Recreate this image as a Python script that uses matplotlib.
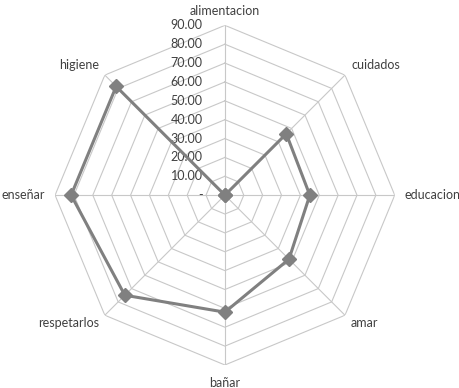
import numpy as np
import matplotlib.pyplot as plt

categorias = ["alimentacion", "cuidados", "educacion", "amar",
              "bañar", "respetarlos", "enseñar", "higiene"]
valores = [0, 46, 45, 48, 62, 75, 81.5, 81.5]
niveles = [0, 10, 20, 30, 40, 50, 60, 70, 80, 90]
etiquetas_nivel = ["-"] + [f"{v:.2f}" for v in niveles[1:]]

plt.rcParams['font.family'] = ['Lato', 'DejaVu Sans']

fig = plt.figure(figsize=(4.59, 3.88), dpi=100)
ax = fig.add_axes([0.120, 0.059, 0.740, 0.876], projection='polar')
ax.set_theta_zero_location('N')
ax.set_theta_direction(-1)
ax.set_ylim(0, 90)
ax.grid(False)
ax.spines['polar'].set_visible(False)
ax.set_xticks([])
ax.set_yticks([])
ax.patch.set_alpha(0)

n = len(categorias)
angulos = np.arange(n) * 2 * np.pi / n
cerrado = np.append(angulos, angulos[0])

# anillos poligonales y radios
for r in niveles[1:]:
    ax.plot(cerrado, [r] * (n + 1), color='#c8c8c8', lw=0.8, zorder=1)
for a in angulos:
    ax.plot([a, a], [0, 90], color='#c8c8c8', lw=0.8, zorder=1)

# etiquetas de valores sobre el eje superior
for r, t in zip(niveles, etiquetas_nivel):
    ax.annotate(t, (0, r), xytext=(-16, 0), textcoords='offset points',
                ha='right', va='center', fontsize=9, color='#404040')

# etiquetas de categorias
pos = [((0, 6), 'center', 'bottom'), ((5, 3), 'left', 'bottom'),
       ((7, 0), 'left', 'center'), ((4, -1), 'left', 'top'),
       ((0, -9), 'center', 'top'), ((-4, -1), 'right', 'top'),
       ((-7, 0), 'right', 'center'), ((-4, 3), 'right', 'bottom')]
for a, c, (off, ha, va) in zip(angulos, categorias, pos):
    ax.annotate(c, (a, 90), xytext=off, textcoords='offset points',
                ha=ha, va=va, fontsize=9, color='#404040')

ax.plot(cerrado, valores + valores[:1], color='#808080', lw=2.2,
        marker='D', markersize=7, zorder=3)

fig.savefig('out.png', dpi=100)
